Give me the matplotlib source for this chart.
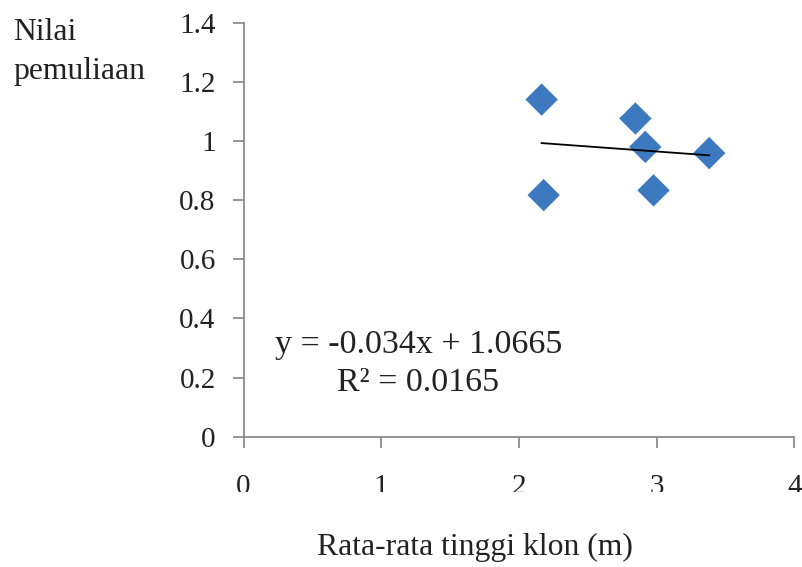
import matplotlib
matplotlib.use("Agg")
import matplotlib.pyplot as plt
from matplotlib.patches import Rectangle

# Data
tinggi_klon = [2.165, 2.18, 2.846, 2.918, 2.978, 3.382]
nilai_pemuliaan = [1.140, 0.817, 1.076, 0.980, 0.833, 0.959]
trend_slope = -0.034
trend_intercept = 1.0665
eq_text = "y = -0.034x + 1.0665"
r2_text = "R² = 0.0165"
x_ticks = [0, 1, 2, 3, 4]
y_ticks = [0, 0.2, 0.4, 0.6, 0.8, 1, 1.2, 1.4]
y_tick_labels = ["0", "0.2", "0.4", "0.6", "0.8", "1", "1.2", "1.4"]

plt.rcParams['font.family'] = ['Liberation Serif', 'DejaVu Serif']

fig = plt.figure(figsize=(8.02, 5.67), dpi=100)
ax = fig.add_axes([243.5/802, 1-436.7/567, (794.3-243.5)/802, (436.7-22.7)/567])

ax.scatter(tinggi_klon, nilai_pemuliaan, marker='D', s=16.5**2, color='#3D79BF',
           edgecolors='none', zorder=3, clip_on=False)
xmin, xmax = min(tinggi_klon), max(tinggi_klon)
ax.plot([xmin, xmax], [trend_slope*xmin + trend_intercept, trend_slope*xmax + trend_intercept],
        color='black', lw=1.3, zorder=4)

ax.set_xlim(0, 4)
ax.set_ylim(0, 1.4)
ax.set_xticks(x_ticks)
ax.set_xticklabels([str(t) for t in x_ticks])
ax.set_yticks(y_ticks)
ax.set_yticklabels(y_tick_labels)

for s in ['top', 'right']:
    ax.spines[s].set_visible(False)
for s in ['left', 'bottom']:
    ax.spines[s].set_color('#8c8c8c')
    ax.spines[s].set_linewidth(1.3)
ax.tick_params(axis='both', direction='out', length=8, width=1.3, color='#8c8c8c',
               labelsize=21, labelcolor='#222222')
ax.tick_params(axis='y', pad=12)
ax.tick_params(axis='x', pad=19)

# trendline label, in pixel-derived axes fractions
ax.text((419-243.5)/550.8, (436.7-353)/414, eq_text, transform=ax.transAxes,
        ha='center', va='baseline', fontsize=24.5, color='#222222')
ax.text((418-243.5)/550.8, (436.7-391)/414, r2_text, transform=ax.transAxes,
        ha='center', va='baseline', fontsize=24.5, color='#222222')

fig.text(13/802, 1-40/567, "Nilai", ha='left', va='baseline', fontsize=22.8, color='#222222')
fig.text(13/802, 1-79/567, "pemuliaan", ha='left', va='baseline', fontsize=22.8, color='#222222')
fig.text(475/802, 1-555/567, "Rata-rata tinggi klon (m)", ha='center', va='baseline',
         fontsize=22.8, color='#222222')

# white band clipping the lower part of the x tick labels, as in the reference
fig.patches.append(Rectangle((200/802, 1-522/567), 602/802, 30/567,
                             transform=fig.transFigure, facecolor='white',
                             edgecolor='none', zorder=10))

fig.savefig("out.png", dpi=100)
